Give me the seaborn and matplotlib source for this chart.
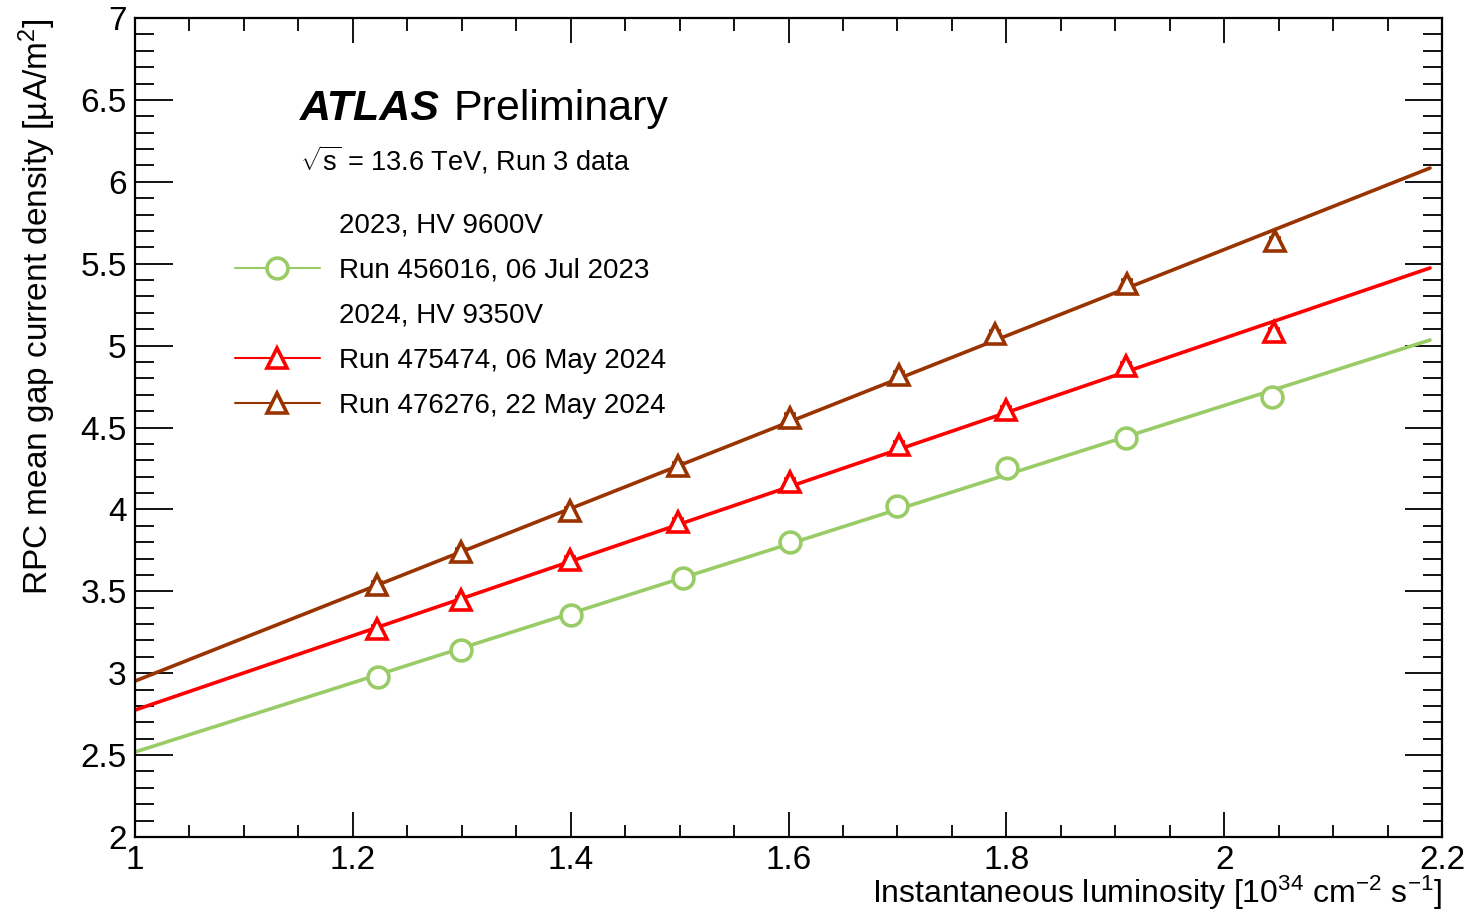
import numpy as np
import pandas as pd
import matplotlib
matplotlib.use("Agg")
import matplotlib.pyplot as plt
from matplotlib.lines import Line2D
from matplotlib.ticker import MultipleLocator, FuncFormatter
import seaborn as sns

# measured points (luminosity in 1e34 cm-2 s-1, current density in uA/m2)
green_x = [1.223, 1.299, 1.400, 1.503, 1.601, 1.700, 1.801, 1.910, 2.044]
green_y = [2.977, 3.142, 3.356, 3.583, 3.801, 4.019, 4.253, 4.436, 4.688]
red_x = [1.222, 1.299, 1.399, 1.499, 1.601, 1.701, 1.800, 1.910, 2.046]
red_y = [3.270, 3.444, 3.692, 3.923, 4.167, 4.393, 4.607, 4.873, 5.080]
brown_x = [1.222, 1.299, 1.399, 1.499, 1.601, 1.701, 1.790, 1.911, 2.047]
brown_y = [3.536, 3.740, 3.990, 4.265, 4.560, 4.821, 5.071, 5.379, 5.636]
point_err = 0.02

# linear fit lines (end points)
fit_x = [1.0, 2.189]
green_fit = [2.519, 5.034]
red_fit = [2.775, 5.474]
brown_fit = [2.952, 6.084]

labels = ["Run 456016, 06 Jul 2023", "Run 475474, 06 May 2024", "Run 476276, 22 May 2024"]
headers = ["2023, HV 9600V", "2024, HV 9350V"]

GREEN = "#99CC66"
RED = "#FF0000"
BROWN = "#993300"

sns.set_theme(style="ticks")
plt.rcParams["font.family"] = ["Liberation Sans", "DejaVu Sans"]
plt.rcParams["mathtext.fontset"] = "custom"
plt.rcParams["mathtext.rm"] = "Liberation Sans"
plt.rcParams["mathtext.it"] = "Liberation Sans:italic"
plt.rcParams["mathtext.bf"] = "Liberation Sans:bold"
for key in ["text.color", "axes.labelcolor", "xtick.color", "ytick.color", "axes.edgecolor"]:
    plt.rcParams[key] = "black"

fig = plt.figure(figsize=(14.68, 9.14), dpi=100)
ax = fig.add_axes([135 / 1468, 1 - 837 / 914, 1307 / 1468, 819 / 914])

fits = pd.DataFrame({
    "x": fit_x * 3,
    "y": green_fit + red_fit + brown_fit,
    "run": [labels[0]] * 2 + [labels[1]] * 2 + [labels[2]] * 2,
})
sns.lineplot(data=fits, x="x", y="y", hue="run",
             palette=[GREEN, RED, BROWN], linewidth=2.6, legend=False, ax=ax)

series = [(green_x, green_y, GREEN, "o"), (red_x, red_y, RED, "^"), (brown_x, brown_y, BROWN, "^")]
for xs, ys, col, mk in series:
    ax.errorbar(xs, ys, yerr=point_err, fmt=mk, color=col, mfc="white",
                mec=col, mew=2.6, ms=15, capsize=4, elinewidth=1.2, zorder=5)

ax.set_xlim(1, 2.2)
ax.set_ylim(2, 7)
ax.xaxis.set_major_locator(MultipleLocator(0.2))
ax.xaxis.set_minor_locator(MultipleLocator(0.05))
ax.yaxis.set_major_locator(MultipleLocator(0.5))
ax.yaxis.set_minor_locator(MultipleLocator(0.1))
ax.xaxis.set_major_formatter(FuncFormatter(lambda v, p: f"{v:g}"))
ax.yaxis.set_major_formatter(FuncFormatter(lambda v, p: f"{v:g}"))
ax.tick_params(axis="both", which="both", direction="in", top=True, right=True,
               labelsize=24, width=1.3, color="black")
ax.tick_params(axis="x", which="major", length=18, pad=6)
ax.tick_params(axis="x", which="minor", length=9)
ax.tick_params(axis="y", which="major", length=27, pad=6)
ax.tick_params(axis="y", which="minor", length=14)
for sp in ax.spines.values():
    sp.set_linewidth(1.6)
    sp.set_color("black")

ax.set_xlabel("Instantaneous luminosity [10$^{34}$ cm$^{-2}$ s$^{-1}$]", fontsize=23,
              loc="right", labelpad=-2)
ax.set_ylabel("RPC mean gap current density [µA/m$^{2}$]", fontsize=24, loc="top", labelpad=16)

atlas = ax.text(300 / 1468, 1 - 120 / 914, "ATLAS", transform=fig.transFigure,
                fontsize=31, fontweight="bold", fontstyle="italic")
ax.annotate("Preliminary", xy=(1, 0), xycoords=atlas, xytext=(10, 0),
            textcoords="offset points", fontsize=31, va="bottom")
ax.text(300 / 1468, 1 - 170 / 914, r"$\sqrt{\mathrm{s}}$ = 13.6 TeV, Run 3 data",
        transform=fig.transFigure, fontsize=19.5)

blank = Line2D([], [], linestyle="none")
h_green = Line2D([], [], color=GREEN, lw=1.5, marker="o", ms=15, mfc="white", mec=GREEN, mew=2.6)
h_red = Line2D([], [], color=RED, lw=1.5, marker="^", ms=15, mfc="white", mec=RED, mew=2.6)
h_brown = Line2D([], [], color=BROWN, lw=1.5, marker="^", ms=15, mfc="white", mec=BROWN, mew=2.6)
leg = ax.legend([blank, h_green, blank, h_red, h_brown],
                [headers[0], labels[0], headers[1], labels[1], labels[2]],
                loc="upper left", bbox_to_anchor=(235 / 1468, 1 - 213 / 914),
                bbox_transform=fig.transFigure, frameon=False, fontsize=20,
                handlelength=3.05, handletextpad=0.68, labelspacing=0.68,
                borderpad=0, borderaxespad=0)

fig.savefig("out.png", dpi=100)
